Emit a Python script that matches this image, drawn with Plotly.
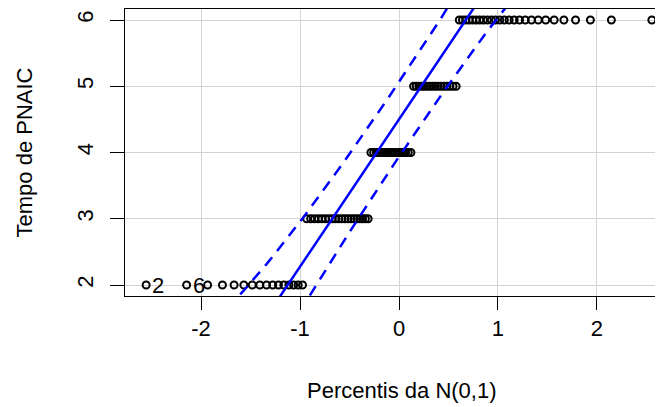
import plotly.graph_objects as go
from statistics import NormalDist

# ---- data ----
tempo_values = [2, 3, 4, 5, 6]          # distinct values of "Tempo de PNAIC"
tempo_counts = [16, 20, 16, 16, 26]     # number of observations at each value
id_labels = ["2", "6"]                  # identified observations (lowest two points)
x_ticks = [-2, -1, 0, 1, 2]
y_ticks = [2, 3, 4, 5, 6]

# ---- QQ-plot construction (car::qqPlot style) ----
N = NormalDist()
sample = []
for v, c in zip(tempo_values, tempo_counts):
    sample += [v] * c
sample.sort()
n = len(sample)
P = [(i + 0.5) / n for i in range(n)]         # ppoints(n), n > 10
z = [N.inv_cdf(p) for p in P]


def quantile7(data, q):
    h = (len(data) - 1) * q
    lo = int(h)
    hi = min(lo + 1, len(data) - 1)
    return data[lo] + (h - lo) * (data[hi] - data[lo])


Qx = [quantile7(sample, 0.25), quantile7(sample, 0.75)]
Qz = [N.inv_cdf(0.25), N.inv_cdf(0.75)]
slope = (Qx[1] - Qx[0]) / (Qz[1] - Qz[0])
intercept = Qx[0] - slope * Qz[0]
zz = N.inv_cdf(0.975)
fit = [intercept + slope * t for t in z]
SE = [(slope / N.pdf(t)) * ((p * (1 - p) / n) ** 0.5) for t, p in zip(z, P)]
upper = [f + zz * s for f, s in zip(fit, SE)]
lower = [f - zz * s for f, s in zip(fit, SE)]

xr = [-2.768, 2.667]
yr = [1.834, 6.166]

FONT = "Liberation Sans, Arial, sans-serif"
FS = 22

fig = go.Figure()
fig.add_trace(go.Scatter(
    x=z, y=sample, mode="markers",
    marker=dict(symbol="circle-open", size=7, color="black", line=dict(width=2, color="black")),
    hoverinfo="skip", showlegend=False, cliponaxis=False))
fig.add_trace(go.Scatter(
    x=xr, y=[intercept + slope * t for t in xr], mode="lines",
    line=dict(color="#0000ff", width=2.5), showlegend=False, hoverinfo="skip"))
fig.add_trace(go.Scatter(
    x=z, y=upper, mode="lines",
    line=dict(color="#0000ff", width=2.5, dash="11px,8px"), showlegend=False, hoverinfo="skip"))
fig.add_trace(go.Scatter(
    x=z, y=lower, mode="lines",
    line=dict(color="#0000ff", width=2.5, dash="11px,8px"), showlegend=False, hoverinfo="skip"))

annotations = []
for k, lab in enumerate(id_labels):
    annotations.append(dict(
        x=z[k], y=sample[k], xref="x", yref="y", text=lab, showarrow=False,
        xanchor="left", yanchor="middle", xshift=4,
        font=dict(family=FONT, size=22, color="black")))
annotations.append(dict(
    x=0.5, y=0, xref="paper", yref="paper", text="Percentis da N(0,1)", showarrow=False,
    xanchor="center", yanchor="middle", yshift=-94, xshift=8,
    font=dict(family=FONT, size=FS, color="black")))
annotations.append(dict(
    x=0, y=0.5, xref="paper", yref="paper", text="Tempo de PNAIC", showarrow=False,
    xanchor="center", yanchor="middle", xshift=-101, textangle=-90,
    font=dict(family=FONT, size=FS, color="black")))

# the page body has an 8px margin, so the figure is sized/offset to land the
# plot area where it sits in the reference
fig.update_layout(
    width=655, height=399,
    margin=dict(l=117, r=0, t=1, b=111),
    paper_bgcolor="white", plot_bgcolor="white",
    font=dict(family=FONT, size=FS, color="black"),
    annotations=annotations,
    xaxis=dict(range=xr, tickvals=x_ticks, ticktext=[str(v) for v in x_ticks],
               ticks="outside", ticklen=13, tickwidth=1, tickcolor="black",
               showline=True, linecolor="black", linewidth=1, mirror=True,
               showgrid=True, gridcolor="#d3d3d3", gridwidth=1, zeroline=False,
               tickfont=dict(family=FONT, size=FS, color="black")),
    yaxis=dict(range=yr, tickvals=y_ticks, ticktext=[str(v) for v in y_ticks],
               ticks="outside", ticklen=14, tickwidth=1, tickcolor="black",
               showline=True, linecolor="black", linewidth=1, mirror=False,
               showgrid=True, gridcolor="#d3d3d3", gridwidth=1, zeroline=False,
               tickangle=-90, ticklabelstandoff=8,
               tickfont=dict(family=FONT, size=FS, color="black")),
)

fig.write_html("out.html")
